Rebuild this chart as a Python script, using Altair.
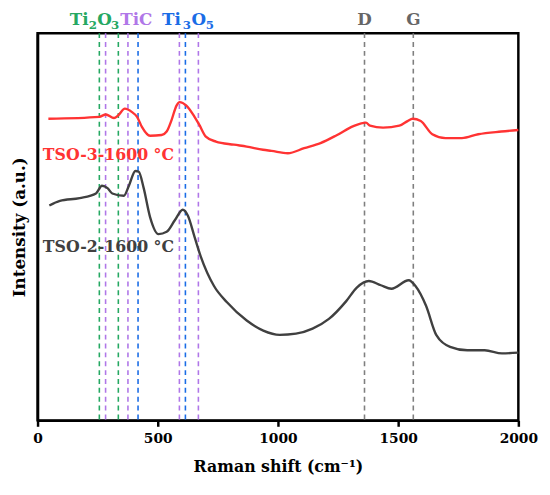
import altair as alt
import pandas as pd

# ---- data ----
red_x = [45, 257, 284, 318, 336, 363, 393, 414, 434, 468, 516, 537, 557, 578, 591, 619, 653, 673, 700,
         742, 817, 870, 938, 973, 1041, 1109, 1177, 1246, 1314, 1366, 1383, 1437, 1505, 1539, 1560,
         1594, 1642, 1697, 1765, 1833, 1929, 2000]
red_y = [77.9, 78.4, 79.0, 78.1, 78.8, 80.5, 79.6, 78.4, 75.8, 73.5, 73.7, 74.6, 77.5, 81.3, 82.2, 81.3,
         78.4, 76.3, 73.3, 72.0, 71.2, 70.7, 69.9, 69.6, 69.0, 70.3, 71.6, 73.7, 76.0, 76.9, 76.1, 75.6,
         76.1, 77.3, 77.9, 77.3, 73.9, 72.9, 72.9, 73.9, 74.6, 75.0]

gray_x = [49, 93, 175, 243, 268, 291, 311, 359, 380, 407, 421, 441, 468, 503, 537, 571, 604, 625, 653,
          679, 734, 788, 870, 939, 1007, 1075, 1144, 1212, 1284, 1328, 1378, 1428, 1472, 1544, 1572,
          1616, 1659, 1716, 1788, 1860, 1932, 2000]
gray_y = [55.5, 56.7, 57.4, 58.6, 60.6, 60.0, 58.6, 58.0, 60.6, 64.4, 64.2, 60.1, 52.5, 48.1, 48.7, 51.7,
          54.4, 52.9, 47.4, 42.3, 34.7, 30.5, 25.8, 23.2, 22.1, 22.4, 23.7, 26.2, 30.8, 34.3, 36.0, 34.9,
          34.0, 36.2, 34.7, 29.6, 22.0, 19.0, 18.1, 18.1, 17.3, 17.5]

series_names = ["TSO-3-1600 °C", "TSO-2-1600 °C"]

ref_x = [257, 336, 283, 376, 590, 669, 418, 615, 1360, 1563]
ref_phase = ["Ti2O3", "Ti2O3", "TiC", "TiC", "TiC", "TiC", "Ti3O5", "Ti3O5", "C", "C"]

# phase labels above the frame, split into normal text and subscripts
main_text = ["Ti", "O", "TiC", "Ti", "O"]
main_x = [134, 248, 344, 518, 640]
main_phase = ["Ti2O3", "Ti2O3", "TiC", "Ti3O5", "Ti3O5"]
sub_text = ["2", "3", "3", "5"]
sub_x = [213, 306, 604, 700]
sub_phase = ["Ti2O3", "Ti2O3", "Ti3O5", "Ti3O5"]
band_text = ["D", "G"]
band_x = [1360, 1563]
label_row_y = 102.0

lab_x = [22, 22]
lab_y = [67.2, 43.5]

# ---- tables ----
lines = pd.concat([
    pd.DataFrame({"x": red_x, "y": red_y, "s": series_names[0]}),
    pd.DataFrame({"x": gray_x, "y": gray_y, "s": series_names[1]}),
])
refs = pd.DataFrame({"x": ref_x, "phase": ref_phase})
mains = pd.DataFrame({"x": main_x, "t": main_text, "phase": main_phase, "y": label_row_y})
subs = pd.DataFrame({"x": sub_x, "t": sub_text, "phase": sub_phase, "y": label_row_y})
bands = pd.DataFrame({"x": band_x, "t": band_text, "phase": "C", "y": label_row_y})
labs = pd.DataFrame({"x": lab_x, "y": lab_y, "s": series_names})

FONT = "DejaVu Serif"
phase_scale = alt.Scale(domain=["Ti2O3", "TiC", "Ti3O5", "C"],
                        range=["#25a862", "#b077e8", "#1a6ce6", "#666666"])
rule_scale = alt.Scale(domain=["Ti2O3", "TiC", "Ti3O5", "C"],
                       range=["#25a862", "#b077e8", "#1a6ce6", "#7f7f7f"])
series_scale = alt.Scale(domain=series_names, range=["#ff3333", "#404040"])

xs = alt.Scale(domain=[0, 2000], nice=False)
ys = alt.Scale(domain=[0, 100], nice=False)

xaxis = alt.Axis(values=[0, 500, 1000, 1500, 2000], format="d", title="Raman shift (cm\u207b\u00b9)",
                 grid=False, labelFont=FONT, labelFontSize=14, labelFontWeight="bold",
                 labelColor="black", titleFont=FONT, titleFontSize=16, titleFontWeight="bold",
                 titleColor="black", domainColor="black", domainWidth=2.5, tickColor="black",
                 tickWidth=2.5, tickSize=6, labelPadding=5, titlePadding=14, labelFlush=False)
yaxis = alt.Axis(labels=False, ticks=False, grid=False, title="Intensity (a.u.)",
                 titleFont=FONT, titleFontSize=17, titleFontWeight="bold", titleColor="black",
                 domainColor="black", domainWidth=2.5, titlePadding=9)

rules = alt.Chart(refs).mark_rule(strokeDash=[5, 4], strokeWidth=1.6).encode(
    x=alt.X("x:Q", scale=xs, axis=xaxis),
    color=alt.Color("phase:N", scale=rule_scale, legend=None),
)

curves = alt.Chart(lines).mark_line(strokeWidth=2.4, interpolate="monotone").encode(
    x=alt.X("x:Q", scale=xs, axis=xaxis),
    y=alt.Y("y:Q", scale=ys, axis=yaxis),
    color=alt.Color("s:N", scale=series_scale, legend=None),
    detail="s:N",
)

labels = alt.Chart(labs).mark_text(font=FONT, fontSize=16, fontWeight="bold", align="left",
                                   baseline="alphabetic").encode(
    x=alt.X("x:Q", scale=xs),
    y=alt.Y("y:Q", scale=ys),
    text="s:N",
    color=alt.Color("s:N", scale=series_scale, legend=None),
)


def phase_text(df, size, align, dy):
    return alt.Chart(df).mark_text(font=FONT, fontSize=size, fontWeight="bold", align=align,
                                   baseline="alphabetic", dy=dy).encode(
        x=alt.X("x:Q", scale=xs),
        y=alt.Y("y:Q", scale=ys),
        text="t:N",
        color=alt.Color("phase:N", scale=phase_scale, legend=None),
    )


main_layer = phase_text(mains, 17, "left", 0)
sub_layer = phase_text(subs, 12, "left", 4)
band_layer = phase_text(bands, 17, "center", 0)

chart = alt.layer(rules, curves, labels, main_layer, sub_layer, band_layer).resolve_scale(
    color="independent"
).properties(
    width=488, height=393,
    autosize=alt.AutoSizeParams(type="none"),
    padding={"left": 30, "top": 22, "right": 24, "bottom": 60},
).configure_view(stroke="black", strokeWidth=2.5)

chart.save("out.html", embed_options={"renderer": "svg", "actions": False})
